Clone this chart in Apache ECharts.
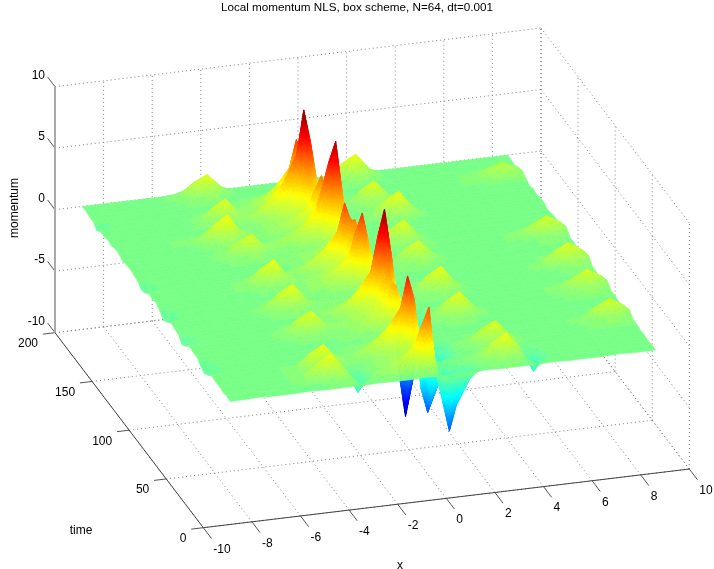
<!DOCTYPE html>
<html lang="en">
<head>
    <meta charset="UTF-8">
    <title>Local momentum NLS</title>
    <script src="https://cdn.jsdelivr.net/npm/echarts@6/dist/echarts.min.js"></script>
    <style type="text/css">
        html, body { margin: 0; padding: 0; background: #fff; }
        #chart { width: 714px; height: 569px; }
    </style>
</head>
<body>
<div id="chart"></div>
<script>
    var xTicks = [-10, -8, -6, -4, -2, 0, 2, 4, 6, 8, 10];
    var timeTicks = [0, 50, 100, 150, 200];
    var zTicks = [-10, -5, 0, 5, 10];

    var xValues = [-8.89, -8.33, -7.78, -7.22, -6.66, -6.11, -5.55, -5, -4.44, -3.89, -3.33, -2.78, -2.22, -1.67, -1.11, -0.83, -0.56, -0.28,
        0, 0.28, 0.56, 1.11, 1.67, 2.22, 2.78, 3.33, 3.89, 4.44, 5, 5.55, 6.11, 6.66, 7.22, 7.78, 8.33, 8.61];
    var timeValues = [0, 5, 10, 15, 20, 25, 30, 35, 40, 45, 50, 55, 60, 65, 70, 75, 80, 85, 90, 95, 100,
        105, 110, 115, 120, 125, 130, 135, 140, 145, 150, 155, 160, 165, 170, 175, 180, 185, 190, 195, 200];

    // momentum, one row per entry of timeValues
    var zRows = [
        [0,0,.05,0,0,0,.05,0,0,0,0,.05,0,0,0,.05,0,0,-.05,0,0,0,.05,0,0,0,0,.05,0,0,0,0,.05,0,0,0],
        [.05,.05,.05,.05,.05,.05,.1,.2,.5,.7,-.4,.3,.7,1.3,2.2,4,5.3,0,-2.5,-5,-3,-1,.2,.5,.7,.2,-.4,.05,.05,.05,.05,.05,.05,.05,.05,.05],
        [-.05,-.05,-.05,-.05,-.05,.05,.5,1.4,2,.7,-1.4,.2,.5,.9,1.6,2.7,1.9,.6,-.3,-.3,-.2,.1,.5,1.4,2,.7,-1.4,-.2,-.05,-.05,-.05,-.05,-.05,-.05,-.05,-.05],
        [.05,.05,.05,.05,.05,.05,.2,.6,.8,.3,-.6,.2,.4,.7,1.1,1.8,1.3,.5,-.1,-.1,0,.05,.2,.5,.7,.2,-.6,.05,.05,.05,.05,.05,.05,.05,.05,.05],
        [0,0,0,0,0,.1,.5,1.4,2,.7,0,.3,.6,1.1,1.9,3.2,2.2,1,-3.5,-2.4,-1,0,.1,.4,.6,.2,0,0,0,0,0,0,0,0,0,0],
        [.1,.1,.1,.1,.1,.1,.1,.2,.5,.7,.3,.6,1.3,2.2,3.8,6.3,4.4,-3,-5,-3.5,-1.5,.1,.5,1.3,1.8,.7,.1,.1,.1,.1,.1,.1,.1,.1,.1,.1],
        [-.25,-.15,-.05,-.05,-.05,-.05,-.05,-.05,-.05,-.05,.1,.3,.6,1.1,1.9,3.2,2.2,1,-3.5,-2.2,-.8,-.05,.1,.3,.5,.1,-.05,-.05,-.05,-.05,0,.1,.3,.55,.3,.1],
        [-.5,-.15,.05,.05,.05,.05,.05,.05,.05,.05,.05,.2,.3,.5,.8,1.3,.9,.4,-.8,-.5,-.1,.05,.05,.05,.05,.05,.05,.05,.05,.05,.1,.4,1.1,1.6,1,.5],
        [-.3,-.2,-.1,-.1,-.1,-.1,-.1,-.1,-.1,-.1,-.1,-.05,0,.1,.3,.7,1,.5,-.4,-.3,-.15,-.1,-.1,-.1,-.1,-.1,-.1,-.1,-.1,-.1,-.1,0,.2,.5,.2,0],
        [.05,.05,.05,.05,.05,.05,.05,.05,.05,.05,.05,.2,.3,.5,.8,1.4,1.8,1,-1.5,-1,-.3,.05,.05,.05,.05,.05,.05,.05,.05,.05,.05,.05,.05,.05,.05,.05],
        [0,0,0,0,0,0,0,.1,.4,.6,.2,.2,.5,.9,1.5,2.6,3.5,1.9,-4,-2.8,-.8,.05,.45,.65,.2,0,-.1,0,0,0,0,0,0,0,0,0],
        [.1,.1,.1,.1,.1,.1,.1,.4,1.3,1.8,.7,.4,.6,1,1.6,2.6,3.4,-4,-7.7,-5,-1.6,.4,1.3,1.9,.7,.1,-.1,.1,.1,.1,.1,.1,.1,.1,.1,.1],
        [-.25,-.15,-.05,-.05,-.05,-.05,-.05,.1,.4,.6,.2,.2,.6,1.1,1.8,3.2,4.3,2.4,-4,-2.4,-.6,0,.45,.65,.2,-.05,-.1,-.05,-.05,-.05,0,.1,.3,.55,.3,.1],
        [-.55,-.25,0,0,0,0,0,0,0,0,.1,.5,1.1,2.1,3.6,6.4,8.5,4.7,.4,-.8,-.4,0,0,0,0,0,0,0,0,0,.1,.4,1.1,1.6,1,.5],
        [-.1,0,.1,.1,.1,.1,.1,.1,.1,.1,.2,.5,.7,1.1,1.8,3.2,4.3,2.4,.3,-.3,0,.1,.1,.1,.1,.1,.1,.1,.1,.1,.1,.2,.4,.55,.35,.15],
        [-.05,-.05,-.05,-.05,-.05,-.05,-.05,.1,.5,.7,.2,.1,.2,.4,.7,1.3,1.7,.9,0,-.3,-.2,.05,.5,.7,.2,-.05,-.15,-.05,-.05,-.05,-.05,-.05,-.05,-.05,-.05,-.05],
        [.05,.05,.05,.05,.05,.05,.1,.5,1.4,2,.7,.2,.2,.3,.4,.6,.8,.5,.1,-.1,.05,.4,1.4,2,.7,.05,-.2,.05,.05,.05,.05,.05,.05,.05,.05,.05],
        [-.3,-.2,-.1,-.1,-.1,-.1,-.1,.05,.5,.7,.1,0,0,.1,.3,.8,1.2,.6,-.2,-.3,-.2,0,.5,.7,.1,-.1,-.2,-.1,-.1,-.1,-.1,0,.2,.6,.3,.05],
        [-.55,-.2,.05,.05,.05,.05,.05,.05,.05,.05,.05,.3,.5,.8,1.3,2.2,2.9,1.7,.1,-.4,-.1,.05,.05,.05,.05,.05,.05,.05,.05,.05,.1,.5,1.3,1.8,1.1,.55],
        [-.2,-.1,0,0,0,0,0,0,0,0,.1,.35,.75,1.45,2.4,4.35,5.8,3.2,.3,-.6,-.3,0,0,0,0,0,0,0,0,0,0,.1,.4,.6,.35,.15],
        [.1,.1,.1,.1,.1,.1,.1,.2,.5,.7,.3,.4,.6,1,1.5,2.4,3.2,1.8,.3,-.2,0,.1,.1,.1,.1,.1,.1,.1,.1,.1,.1,.1,.1,.1,.1,.1],
        [-.05,-.05,-.05,-.05,-.05,-.05,.05,.5,1.4,2,.6,.2,.5,1.1,1.9,3.4,4.5,2.5,.2,-.5,-.2,0,.4,.6,.2,-.05,-.15,-.05,-.05,-.05,-.05,-.05,-.05,-.05,-.05,-.05],
        [.05,.05,.05,.05,.05,.05,.05,.2,.5,.7,.4,.6,1.1,1.9,3.3,5.5,3.9,1.7,-.6,-.6,-.3,.3,1.2,1.7,.6,.05,-.2,.05,.05,.05,.05,.05,.05,.05,.05,.05],
        [-.3,-.2,-.1,-.1,-.1,-.1,-.1,-.1,-.1,-.1,0,.1,.4,.8,1.5,2.8,1.9,.8,-.3,-.4,-.3,-.05,.2,.5,.1,-.1,-.1,-.1,-.1,-.1,-.1,0,.2,.55,.2,0],
        [-.45,-.1,.05,.05,.05,.05,.05,.05,.05,.05,.05,.2,.3,.6,1,1.6,1.1,.5,-.1,-.1,0,.05,.05,.05,.05,.05,.05,.05,.05,.05,.1,.4,1.1,1.6,1,.5],
        [-.1,0,.1,.1,.1,.1,.1,.1,.1,.1,.1,.2,.4,.6,.9,1.4,1,.5,.1,0,.05,.1,.4,.6,.25,.1,.05,.1,.1,.1,.1,.2,.4,.55,.35,.15],
        [-.05,-.05,-.05,-.05,-.05,-.05,-.05,.05,.4,.6,.1,0,.1,.2,.5,.9,1.4,1.7,.7,-.2,-.2,.1,1.2,1.8,.6,-.05,-.2,-.05,-.05,-.05,-.05,-.05,-.05,-.05,-.05,-.05],
        [.05,.05,.05,.05,.05,.05,.1,.45,1.2,1.7,.6,.3,.5,.8,1.3,2.2,3.2,4,1.8,-.2,-.2,.05,.4,.6,.2,.05,0,.05,.05,.05,.05,.05,.05,.05,.05,.05],
        [0,0,0,0,0,0,0,.1,.4,.6,.3,.4,.8,1.4,2.6,4.4,6.4,8,3.6,-.4,-.4,0,0,0,0,0,0,0,0,0,0,0,0,0,0,0],
        [-.1,-.1,-.1,-.1,-.1,-.05,.1,.5,.8,.1,-.1,.1,.3,.6,1.2,2.3,3.4,4.2,1.8,-.4,-.4,-.1,-.1,-.1,-.1,-.1,-.1,-.1,-.1,-.1,-.1,-.1,-.1,-.1,-.1,-.1],
        [.05,.05,.05,.05,.05,.15,.55,1.5,2.2,.8,.2,.4,.7,1.2,2,3.4,4.5,2.5,.3,-.4,-.1,.05,.2,.5,.7,.2,.05,.05,.05,.05,.05,.05,.05,.05,.05,.05],
        [.1,.1,.1,.1,.1,.1,.25,.6,.8,.4,.3,.4,.6,.9,1.4,2.3,3,1.7,.3,-.1,.05,.15,.5,1.4,2,.7,.05,.1,.1,.1,.1,.1,.1,.1,.1,.1],
        [-.05,-.05,-.05,-.05,-.05,-.05,-.05,-.05,-.05,-.05,.1,.35,.8,1.5,2.6,4.4,3,1.2,-.5,-.5,-.3,-.05,.1,.4,.7,.2,-.05,-.05,-.05,-.05,-.05,-.05,-.05,-.05,-.05,-.05],
        [.05,.05,.05,.05,.05,.05,.05,.1,.4,.6,.4,.9,1.8,3,5.2,8.7,6.1,2.6,-.9,-.9,-.4,.05,.4,.6,.2,.05,0,.05,.05,.05,.05,.05,.05,.05,.05,.05],
        [-.1,-.1,-.1,-.1,-.1,-.1,-.1,.3,1.2,1.8,.5,.3,.8,1.5,2.7,4.6,3.2,1.3,-.5,-.5,-.3,.05,1.2,1.8,.6,-.1,-.2,-.1,-.1,-.1,-.1,-.1,-.1,-.1,-.1,-.1],
        [-.05,0,.05,.05,.05,.05,.05,.1,.4,.6,.3,.6,1.1,1.9,3.3,5.5,3.9,1.7,-.5,-.5,-.2,.05,.4,.6,.2,.05,.05,.05,.05,.05,.05,.1,.3,.4,.3,.15],
        [-.4,-.2,0,0,0,0,0,0,0,0,.1,.3,.6,1,1.7,2.8,2,.8,-.3,-.3,-.1,0,0,0,0,0,0,0,0,0,.05,.3,.85,1.2,.7,.35],
        [-.05,.05,.1,.1,.1,.1,.1,.1,.1,.1,.1,.15,.3,.5,.7,1.1,.8,.4,.1,.05,.1,.1,.1,.1,.1,.1,.1,.1,.1,.1,.1,.15,.3,.4,.3,.2],
        [-.05,-.05,-.05,-.05,-.05,-.05,-.05,.1,.4,.6,.1,-.05,-.05,0,.1,.3,.2,.1,-.05,-.05,-.05,0,.5,.7,.2,-.05,-.05,-.05,-.05,-.05,-.05,-.05,-.05,-.05,-.05,-.05],
        [.05,.05,.05,.05,.05,.05,.1,.45,1.3,1.8,.7,.1,.05,.05,.05,.05,.05,.05,.05,.05,.05,.15,1.4,2,.7,.05,.05,.05,.05,.05,.05,.05,.05,.05,.05,.05],
        [0,0,0,0,0,0,0,.1,.4,.6,.2,0,0,0,0,0,0,0,0,0,0,.05,.5,.7,.2,0,0,0,0,0,0,0,0,0,0,0]
    ];

    var colorMin = -8.5, colorMax = 8.7;
    var fontName = '"Liberation Sans", Arial, sans-serif';

    // fixed view of the 3d box, pixels per data unit (orthographic, like the matlab axes)
    function project(x, t, z) {
        return [
            203.3 + 24.3 * (x + 10) - 0.7415 * t,
            527.7 - 2.935 * (x + 10) - 0.975 * t - 12.3 * (z + 10)
        ];
    }

    function clamp01(v) {
        return Math.max(0, Math.min(1, v));
    }

    // matlab jet with its 64 steps
    function jetColor(z) {
        var idx = Math.min(63, Math.floor(clamp01((z - colorMin) / (colorMax - colorMin)) * 64));
        var c = (idx + 0.5) / 64;
        var r = clamp01(Math.min(4 * c - 1.5, -4 * c + 4.5));
        var g = clamp01(Math.min(4 * c - 0.5, -4 * c + 3.5));
        var b = clamp01(Math.min(4 * c + 0.5, -4 * c + 2.5));
        return 'rgb(' + Math.round(r * 255) + ',' + Math.round(g * 255) + ',' + Math.round(b * 255) + ')';
    }

    // box lines: [x1, t1, z1, x2, t2, z2, kind]
    var boxLines = [];
    xTicks.forEach(function (x) {
        boxLines.push([x, 0, -10, x, 200, -10, 'grid']);
        boxLines.push([x, 200, -10, x, 200, 10, 'grid']);
        boxLines.push([x, 0, -10, x, -11, -10, 'tick']);
    });
    timeTicks.forEach(function (t) {
        boxLines.push([-10, t, -10, 10, t, -10, 'grid']);
        boxLines.push([10, t, -10, 10, t, 10, 'grid']);
        boxLines.push([-10, t, -10, -10.5, t, -10, 'tick']);
    });
    zTicks.forEach(function (z) {
        boxLines.push([-10, 200, z, 10, 200, z, 'grid']);
        boxLines.push([10, 0, z, 10, 200, z, 'grid']);
        boxLines.push([-10, 200, z, -10, 210, z, 'tick']);
    });
    boxLines.push([-10, 0, -10, 10, 0, -10, 'axis']);
    boxLines.push([-10, 0, -10, -10, 200, -10, 'axis']);
    boxLines.push([-10, 200, -10, -10, 200, 10, 'zaxis']);

    var lineStyles = {
        grid: { stroke: '#808080', lineWidth: 1, lineDash: [1, 3] },
        tick: { stroke: '#555', lineWidth: 1 },
        axis: { stroke: '#444', lineWidth: 1 },
        zaxis: { stroke: '#aaa', lineWidth: 2 }
    };

    // surface cells sorted far to near so the nearer ones paint over
    var cells = [];
    for (var i = timeValues.length - 2; i >= 0; i--) {
        for (var j = xValues.length - 2; j >= 0; j--) {
            cells.push([j, i]);
        }
    }

    function renderBoxLine(params, api) {
        var l = boxLines[params.dataIndex];
        var a = api.coord(project(l[0], l[1], l[2]));
        var b = api.coord(project(l[3], l[4], l[5]));
        return {
            type: 'line',
            silent: true,
            shape: { x1: a[0], y1: a[1], x2: b[0], y2: b[1] },
            style: lineStyles[l[6]]
        };
    }

    function renderCell(params, api) {
        var j = cells[params.dataIndex][0], i = cells[params.dataIndex][1];
        var x0 = xValues[j], x1 = xValues[j + 1], t0 = timeValues[i], t1 = timeValues[i + 1];
        var z00 = zRows[i][j], z10 = zRows[i][j + 1], z01 = zRows[i + 1][j], z11 = zRows[i + 1][j + 1];
        // cut steep cells up only so the colour bands show, the corners stay the data
        var range = Math.max(z00, z10, z01, z11) - Math.min(z00, z10, z01, z11);
        var n = Math.max(1, Math.min(12, Math.ceil(range / 0.25)));

        function corner(u, v) {
            var z = (z00 * (1 - u) + z10 * u) * (1 - v) + (z01 * (1 - u) + z11 * u) * v;
            return { p: api.coord(project(x0 + (x1 - x0) * u, t0 + (t1 - t0) * v, z)), z: z };
        }

        var children = [];
        for (var v = n - 1; v >= 0; v--) {
            for (var u = n - 1; u >= 0; u--) {
                var a = corner(u / n, v / n), b = corner((u + 1) / n, v / n);
                var c = corner((u + 1) / n, (v + 1) / n), d = corner(u / n, (v + 1) / n);
                var color = jetColor((a.z + b.z + c.z + d.z) / 4);
                children.push({
                    type: 'polygon',
                    silent: true,
                    shape: { points: [a.p, b.p, c.p, d.p] },
                    style: { fill: color, stroke: color, lineWidth: 0.5 }
                });
            }
        }
        return { type: 'group', children: children };
    }

    // text: [label, x, t, z, dx, dy, align]
    var tickTexts = [];
    xTicks.forEach(function (x) {
        tickTexts.push([String(x), x, 0, -10, 10, 21.5, 'left']);
    });
    timeTicks.forEach(function (t) {
        tickTexts.push([String(t), -10, t, -10, -17, 11, 'right']);
    });
    zTicks.forEach(function (z) {
        tickTexts.push([String(z), -10, 200, z, -10, -11.5, 'right']);
    });

    function renderTick(params, api) {
        var s = tickTexts[params.dataIndex];
        var p = api.coord(project(s[1], s[2], s[3]));
        return {
            type: 'text',
            silent: true,
            style: {
                text: s[0], x: p[0] + s[4], y: p[1] + s[5],
                align: s[6], verticalAlign: 'middle',
                fill: '#000', font: '12px ' + fontName
            }
        };
    }

    // axis names sit outside the box, so they are placed in page pixels
    var axisNames = [['x', 400, 566, 0], ['time', 81, 531, 0], ['momentum', 15, 208, Math.PI / 2]];

    function renderName(params, api) {
        var s = axisNames[params.dataIndex];
        var p = api.coord([s[1], s[2]]);
        return {
            type: 'text',
            silent: true,
            x: p[0], y: p[1], rotation: s[3],
            style: {
                text: s[0], align: 'center', verticalAlign: 'middle',
                fill: '#000', font: '12px ' + fontName
            }
        };
    }

    function customSeries(render, data) {
        return {
            type: 'custom',
            coordinateSystem: 'cartesian2d',
            renderItem: render,
            data: data.map(function (d, idx) { return [idx]; }),
            encode: { x: -1, y: -1 },
            clip: false,
            silent: true,
            progressive: 0,
            animation: false
        };
    }

    var chart = echarts.init(document.getElementById('chart'), null, { renderer: 'canvas' });
    chart.setOption({
        animation: false,
        backgroundColor: '#fff',
        title: {
            text: 'Local momentum NLS, box scheme, N=64, dt=0.001',
            left: 'center',
            top: 2,
            padding: 0,
            textStyle: { fontSize: 11.7, fontWeight: 'normal', color: '#000', fontFamily: fontName }
        },
        grid: { left: 0, right: 0, top: 0, bottom: 0 },
        xAxis: { type: 'value', min: 0, max: 714, show: false },
        yAxis: { type: 'value', min: 0, max: 569, inverse: true, show: false },
        series: [
            customSeries(renderBoxLine, boxLines),
            customSeries(renderCell, cells),
            customSeries(renderTick, tickTexts),
            customSeries(renderName, axisNames)
        ]
    });
</script>
</body>
</html>
